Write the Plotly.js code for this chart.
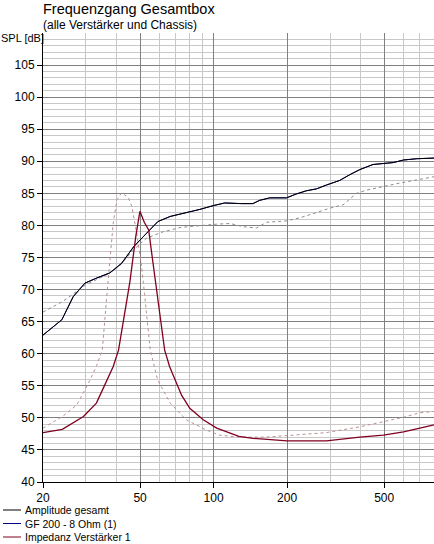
<!DOCTYPE html>
<html><head><meta charset="utf-8">
<script src="https://cdn.plot.ly/plotly-3.0.1.min.js"></script>
<style>html,body{margin:0;padding:0;background:#fff}#chart{width:434px;height:544px}</style>
</head><body><div id="chart"></div>
<script>
// Amplitude gesamt (solid black) – also GF 200 - 8 Ohm (1), identical curve
const ampFreq = [20,23.9,26.6,29.7,33.2,37.6,42,47.1,53.2,59.1,66.4,75.6,87.9,100,111,130,145,154,170,199,218,240,264,290,328,361,397,450,496,545,600,680,800];
const ampDb   = [62.9,65.3,68.9,71.0,71.8,72.6,74.1,76.7,78.8,80.6,81.4,81.9,82.5,83.1,83.5,83.4,83.4,83.9,84.3,84.3,84.9,85.4,85.7,86.3,87.0,87.9,88.7,89.5,89.7,89.8,90.2,90.4,90.5];
// Reference amplitude (dashed gray)
const refFreq = [20,24,29.8,36.4,41,47,53,62,73.5,88,103,117,132,150,165,199,226,264,300,339,385,423,496,578,680,800];
const refDb   = [66.5,68.1,70.7,72.3,73.6,76.2,78.0,79.0,79.7,80.0,80.2,80.3,79.8,79.6,80.5,80.7,81.2,82.0,82.7,83.2,85.0,85.5,86.1,86.6,87.1,87.6];
// Impedanz Verstärker 1 (solid dark red)
const impFreq = [20,24,29.3,33.1,35.1,36.7,38.8,40.8,43,45.4,48,49.9,52,54.2,56.3,58.3,60.9,63,66,69.4,74,79.9,90.7,103,117,127,145,165,200,290,397,496,600,700,800];
const impDb   = [47.7,48.2,50.2,52.3,54.4,55.9,58.0,60.6,65.5,71.2,78.3,82.2,80.5,79.3,74.5,70.0,65.0,60.6,58.0,55.9,53.5,51.5,49.7,48.4,47.6,47.1,46.8,46.6,46.4,46.4,47.0,47.3,47.8,48.4,48.9];
// Reference impedance (dashed pink)
const refImpFreq = [20,24,27.5,29.8,31.2,33.2,35,36.4,37.6,38.8,40.2,42,44.8,46.2,48.4,50.7,52.1,53.8,55,59,66.4,77.3,93.4,106,127,165,200,290,397,496,600,700,800];
const refImpDb   = [48.4,50.2,52.0,54.4,55.9,58.2,60.6,68.4,74.6,80.4,84.0,85.1,84.3,83.0,78.8,73.6,69.4,64.7,60.6,55.9,52.3,49.7,48.1,47.3,47.0,47.0,47.2,47.7,48.6,49.4,50.1,50.8,51.0];

const xTicks = [20,50,100,200,500];
const xTickText = ['20','50','100','200','500'];
const xMinor = [30,40,60,70,80,90,300,400,600,700];
const yTicks = [40,45,50,55,60,65,70,75,80,85,90,95,100,105];

const legendNames = ['Amplitude gesamt','GF 200 - 8 Ohm (1)','Impedanz Verstärker 1'];
const legendColors = ['#000000','#000080','#800020'];

const traces = [
  {x: refFreq, y: refDb, mode:'lines', line:{color:'#8c8c8c', width:1, dash:'3px,3px'}, showlegend:false, hoverinfo:'skip'},
  {x: refImpFreq, y: refImpDb, mode:'lines', line:{color:'#b89090', width:1, dash:'3px,3px'}, showlegend:false, hoverinfo:'skip'},
  {x: ampFreq, y: ampDb, mode:'lines', name: legendNames[1], line:{color: legendColors[1], width:1}, showlegend:false},
  {x: ampFreq, y: ampDb, mode:'lines', name: legendNames[0], line:{color: legendColors[0], width:1}, showlegend:false},
  {x: impFreq, y: impDb, mode:'lines', name: legendNames[2], line:{color: legendColors[2], width:1.3}, showlegend:false}
];

const W = 391; // plot width in px
const H = 449; // plot height in px
const shapes = [];
const annotations = [];
annotations.push({text:'Frequenzgang Gesamtbox', xref:'paper', yref:'paper', x:-1/W, y:1 + (33-0)/H, xanchor:'left', yanchor:'top', showarrow:false, borderpad:0, font:{size:14.5, color:'#000'}});
annotations.push({text:'(alle Verstärker und Chassis)', xref:'paper', yref:'paper', x:-1/W, y:1 + (33-17)/H, xanchor:'left', yanchor:'top', showarrow:false, borderpad:0, font:{size:12, color:'#000'}});
annotations.push({text:'SPL [dB]', xref:'paper', yref:'paper', x:-43/W, y:1 + (33-45)/H, xanchor:'left', yanchor:'bottom', showarrow:false, borderpad:0, font:{size:11, color:'#000'}});
legendNames.forEach((n,i)=>{
  const py = 510 + i*13.5; // pixel y
  const yp = (482 - py)/H;
  shapes.push({type:'line', xref:'paper', yref:'paper', x0:(3-43)/W, x1:(21-43)/W, y0:yp, y1:yp, line:{color:legendColors[i], width:1}});
  annotations.push({text:n, xref:'paper', yref:'paper', x:(23-43)/W, y:yp, xanchor:'left', yanchor:'middle', showarrow:false, font:{size:10.5, color:'#000'}});
});

const layout = {
  width:434, height:544,
  margin:{l:43, r:0, t:33, b:62},
  paper_bgcolor:'#fff', plot_bgcolor:'#fff',
  font:{family:'Liberation Sans, Arial, sans-serif', size:12, color:'#000'},
  showlegend:false,
  xaxis:{type:'log', range:[Math.log10(20), Math.log10(800)], tickvals:xTicks, ticktext:xTickText,
    ticks:'outside', ticklen:5, tickcolor:'#000', showgrid:true, gridcolor:'#808080', gridwidth:1,
    showline:true, linecolor:'#000', linewidth:1, zeroline:false, tickfont:{size:12},
    minor:{tickvals:xMinor, showgrid:true, gridcolor:'#c8c8c8', gridwidth:1, ticks:''}},
  yaxis:{range:[40,110], tickvals:yTicks, ticks:'outside', ticklen:5, tickcolor:'#000',
    showgrid:true, gridcolor:'#808080', gridwidth:1, showline:true, linecolor:'#000', linewidth:1,
    zeroline:false, tickfont:{size:12},
    minor:{dtick:1, showgrid:true, gridcolor:'#c8c8c8', gridwidth:1, ticks:''}},
  shapes: shapes,
  annotations: annotations
};
Plotly.newPlot('chart', traces, layout, {displayModeBar:false, staticPlot:true});
</script></body></html>
